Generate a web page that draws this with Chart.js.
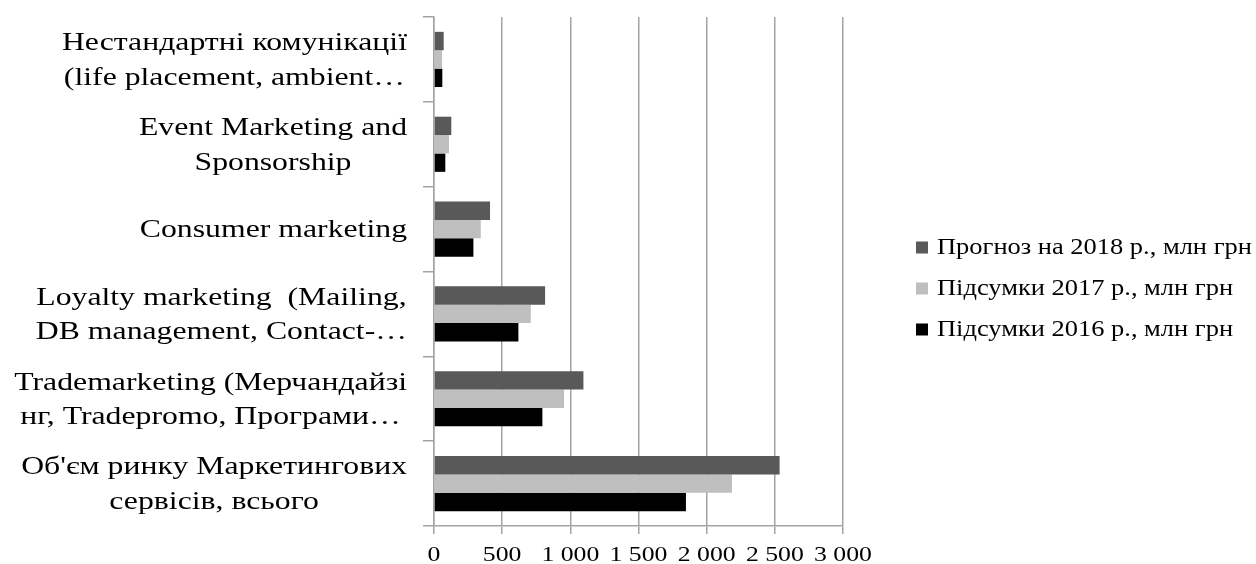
<!DOCTYPE html>
<html lang="uk">
<head>
<meta charset="utf-8">
<title>Ринок маркетингових сервісів</title>
<script src="https://cdn.jsdelivr.net/npm/chart.js@4/dist/chart.umd.min.js"></script>
<style>
  html, body { margin: 0; padding: 0; background: #fff; }
  canvas { display: block; }
</style>
</head>
<body>
<canvas id="chart" width="1256" height="564"></canvas>
<script>
// Categories (top to bottom), each split into the lines shown beside the axis
const categories = [
  ['Нестандартні комунікації', '(life placement, ambient…'],
  ['Event Marketing and', 'Sponsorship'],
  ['Consumer marketing'],
  ['Loyalty marketing  (Mailing,', 'DB management, Contact-…'],
  ['Trademarketing (Мерчандайзі', 'нг, Tradepromo, Програми…'],
  ["Об'єм ринку Маркетингових", 'сервісів, всього']
];

// Series values, млн грн
const forecast2018 = [71, 127, 411, 815, 1096, 2535];
const result2017   = [59, 110, 343, 710, 954, 2186];
const result2016   = [61, 83, 289, 619, 795, 1848];

const seriesNames = [
  'Прогноз на 2018 р., млн грн',
  'Підсумки 2017 р., млн грн',
  'Підсумки 2016 р., млн грн'
];

// Value axis
const axisMin = 0;
const axisMax = 3000;
const axisStep = 500;

const SERIF = '"Liberation Serif", "Times New Roman", serif';
const GRID = '#a3a3a3';

function formatThousands(v) {
  return String(v).replace(/\B(?=(\d{3})+(?!\d))/g, ' ');
}

// Draws text squeezed/widened horizontally around an anchor point
function drawStretched(ctx, text, x, y, sx, align) {
  ctx.save();
  ctx.translate(x, y);
  ctx.scale(sx, 1);
  ctx.textAlign = align;
  ctx.fillText(text, 0, 0);
  ctx.restore();
}

// Serif labels for both axes and the legend on the right
const serifText = {
  id: 'serifText',
  afterDraw(chart) {
    const ctx = chart.ctx;
    const ys = chart.scales.y;
    const xs = chart.scales.x;
    ctx.save();
    ctx.fillStyle = '#000';

    // category labels: block right-aligned, lines centred inside the block
    const catSize = 25, catStretch = 1.27, catLine = 34.5, labelRight = 407;
    ctx.font = catSize + 'px ' + SERIF;
    ctx.textBaseline = 'middle';
    chart.data.labels.forEach((lines, i) => {
      const yc = ys.getPixelForTick(i) + 1.5;
      const w = Math.max(...lines.map(l => ctx.measureText(l).width)) * catStretch;
      const cx = labelRight - w / 2;
      lines.forEach((l, k) => {
        const ly = yc + (k - (lines.length - 1) / 2) * catLine;
        drawStretched(ctx, l, cx, ly, catStretch, 'center');
      });
    });

    // value axis tick labels
    ctx.font = '22px ' + SERIF;
    ctx.textBaseline = 'alphabetic';
    xs.ticks.forEach((t, i) => {
      drawStretched(ctx, formatThousands(t.value), xs.getPixelForTick(i), xs.top + 35, 1.17, 'center');
    });

    // legend
    ctx.font = '23px ' + SERIF;
    const legX = 916, legY = 247.5, legGap = 41, box = 12;
    chart.data.datasets.forEach((ds, i) => {
      const cy = legY + i * legGap;
      ctx.fillStyle = ds.backgroundColor;
      ctx.fillRect(legX, cy - box / 2, box, box);
      ctx.fillStyle = '#000';
      drawStretched(ctx, ds.label, legX + 21, cy + 6, 1.15, 'left');
    });
    ctx.restore();
  }
};

new Chart(document.getElementById('chart'), {
  type: 'bar',
  data: {
    labels: categories,
    datasets: [
      { label: seriesNames[0], data: forecast2018, backgroundColor: '#595959' },
      { label: seriesNames[1], data: result2017,   backgroundColor: '#bfbfbf' },
      { label: seriesNames[2], data: result2016,   backgroundColor: '#000000' }
    ]
  },
  options: {
    indexAxis: 'y',
    responsive: false,
    animation: false,
    devicePixelRatio: 1,
    layout: { padding: { left: 0, top: 17, right: 413, bottom: 0 } },
    datasets: {
      bar: { categoryPercentage: 0.65, barPercentage: 1.0, borderWidth: 0 }
    },
    plugins: {
      legend: { display: false },
      tooltip: { enabled: false }
    },
    scales: {
      x: {
        min: axisMin,
        max: axisMax,
        ticks: { stepSize: axisStep, display: false },
        grid: { color: GRID, lineWidth: 1.5, drawTicks: true, tickLength: 8 },
        border: { color: GRID, width: 1.5 },
        afterFit(scale) { scale.height = 38; }
      },
      y: {
        ticks: { display: false },
        grid: { offset: true, drawOnChartArea: false, color: GRID, lineWidth: 1.5, tickLength: 11 },
        border: { color: GRID, width: 1.5 },
        afterFit(scale) { scale.width = 434; }
      }
    }
  },
  plugins: [serifText]
});
</script>
</body>
</html>
